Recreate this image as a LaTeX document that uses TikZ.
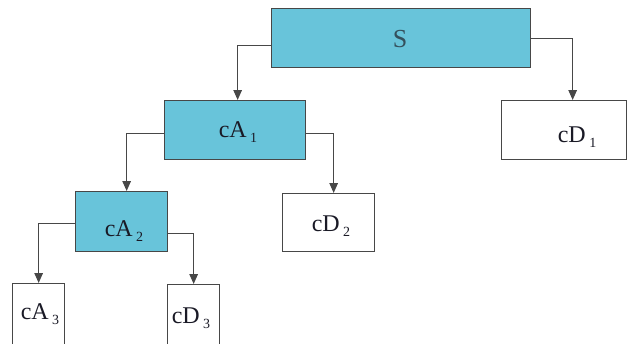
\documentclass[tikz,border=0pt]{standalone}
\usepackage{fontspec}
\setmainfont{Liberation Serif}
\usetikzlibrary{arrows.meta}
\definecolor{boxfill}{HTML}{68C4DA}
\definecolor{edge}{HTML}{474747}
\definecolor{ink}{HTML}{1A1A26}
\definecolor{sink}{HTML}{34505C}
% coefficient name with a lowered index
\newcommand{\coeff}[2]{#1\kern3.5pt\raisebox{-5pt}{\fontsize{14}{14}\selectfont #2}}
\tikzset{
  blk/.style={draw=edge, line width=1.3pt, rectangle, inner sep=0pt, anchor=north west},
  approx/.style={blk, fill=boxfill},
  detail/.style={blk, fill=white},
  lab/.style={anchor=base, inner sep=0pt, text=ink, font=\fontsize{24}{24}\selectfont},
  conn/.style={draw=edge, line width=1.3pt, -{Triangle[length=10pt,width=8.5pt]}},
}
\begin{document}
\begin{tikzpicture}[x=1pt,y=-1pt]
\useasboundingbox (0,0) rectangle (628,343);
\clip (0,0) rectangle (628,343);
% decomposition boxes
\node[approx, minimum width=259pt, minimum height=59pt] (S)   at (271,8)   {};
\node[detail, minimum width=125pt, minimum height=59pt] (D1)  at (501,100) {};
\node[approx, minimum width=141pt, minimum height=59pt] (A1)  at (164,100) {};
\node[detail, minimum width=92pt,  minimum height=58pt] (D2)  at (282,193) {};
\node[approx, minimum width=92pt,  minimum height=60pt] (A2)  at (75,191)  {};
\node[detail, minimum width=52pt,  minimum height=77pt] (A3)  at (12,283)  {};
\node[detail, minimum width=52pt,  minimum height=77pt] (D3)  at (167,284) {};
% labels
\node[lab, text=sink, font=\fontsize{26}{26}\selectfont] (tS) at (400,47) {S};
\node[lab] (tD1) at (577,142) {\coeff{cD}{1}};
\node[lab] (tA1) at (238,137) {\coeff{cA}{1}};
\node[lab] (tD2) at (331,231) {\coeff{cD}{2}};
\node[lab] (tA2) at (124,236) {\coeff{cA}{2}};
\node[lab] (tA3) at (40,319)  {\coeff{cA}{3}};
\node[lab] (tD3) at (191,323) {\coeff{cD}{3}};
% connectors
\draw[conn] ([yshift=-7.5pt]S.west) -| ([xshift=2.5pt]A1.north);
\draw[conn] (S.east) -| ([xshift=8.5pt]D1.north);
\draw[conn] ([yshift=-3.5pt]A1.west) -| ([xshift=5pt]A2.north);
\draw[conn] ([yshift=-3.5pt]A1.east) -| ([xshift=5pt]D2.north);
\draw[conn] ([yshift=-2pt]A2.west) -| (A3.north);
\draw[conn] ([yshift=-12pt]A2.east) -| (D3.north);
\end{tikzpicture}
\end{document}
